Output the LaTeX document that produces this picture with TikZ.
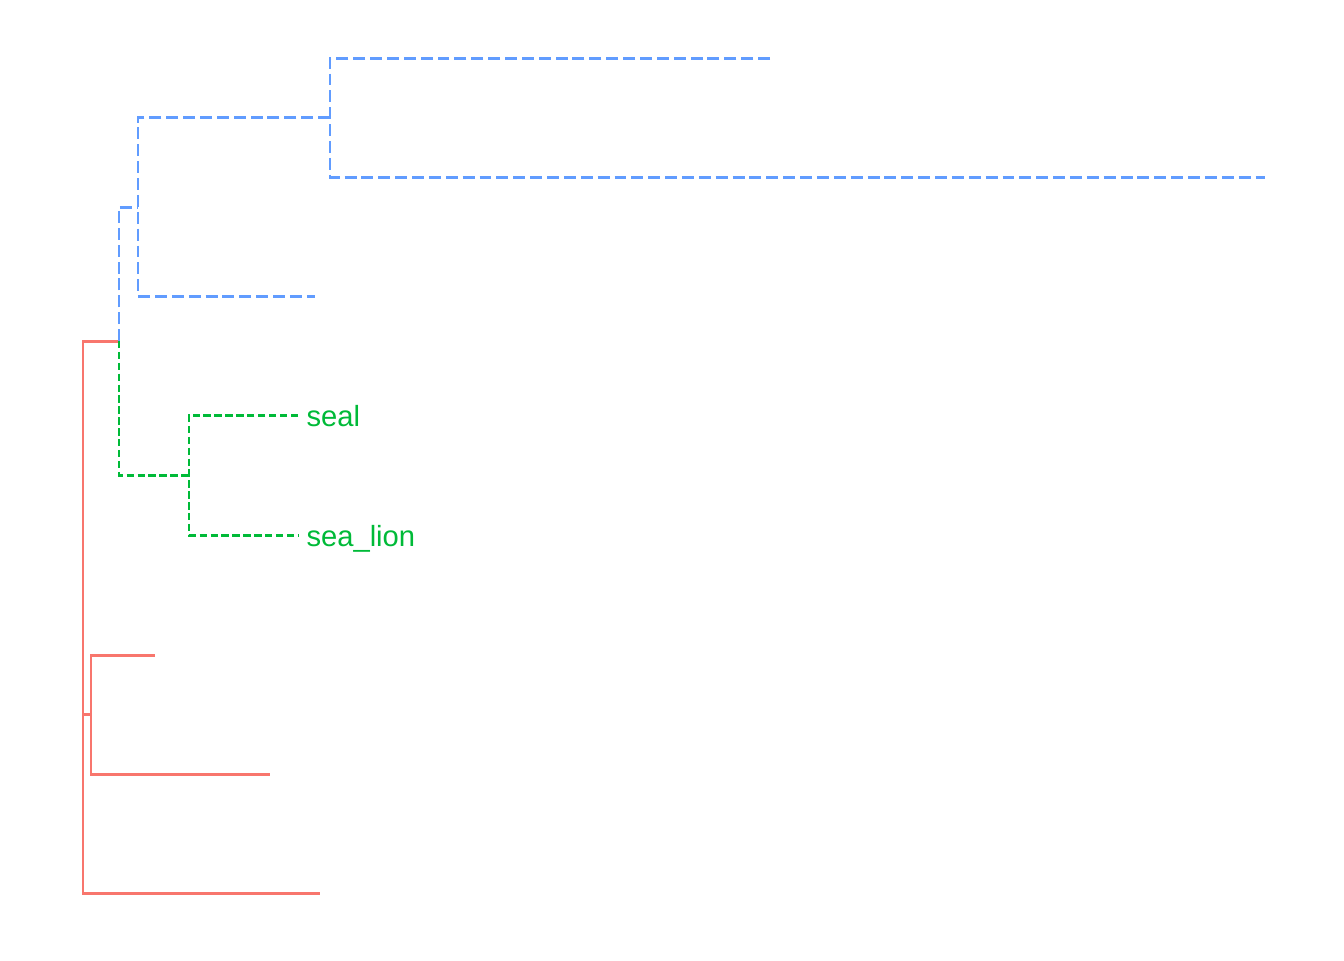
\documentclass[tikz,border=0pt]{standalone}
\usepackage{fontspec}
\setmainfont{Liberation Sans}
\usepackage{xcolor}
\usepackage{tikz}
\usetikzlibrary{positioning}
\definecolor{clusterred}{HTML}{F8766D}
\definecolor{clustergreen}{HTML}{00BA38}
\definecolor{clusterblue}{HTML}{619CFF}

\begin{document}
\begin{tikzpicture}[x=1cm, y=1cm, line width=0.85pt,
    redbranch/.style={clusterred},
    bluebranch/.style={clusterblue, dash pattern=on 3.4pt off 1.4pt},
    greenbranch/.style={clustergreen, dash pattern=on 2.1pt off 1pt},
    leaflabel/.style={anchor=base west, inner sep=2pt, yshift=-3.4pt,
                      text=clustergreen, font=\fontsize{8.3}{10}\selectfont}]
  \useasboundingbox (0,0) rectangle (13.44,-9.6);
  \coordinate (c)      at (1.19,-3.41);
  \coordinate (rootb)  at (0.83,-8.93);
  \coordinate (root)   at (0.83,-7.14);
  \coordinate (s)      at (0.91,-7.14);
  \coordinate (r1)     at (1.55,-6.55);
  \coordinate (r2)     at (2.70,-7.74);
  \coordinate (r3)     at (3.20,-8.93);
  \coordinate (b1)     at (1.38,-2.07);
  \coordinate (b2)     at (3.30,-1.17);
  \coordinate (b3)     at (3.15,-2.96);
  \coordinate (bl1)    at (7.70,-0.58);
  \coordinate (bl2)    at (12.65,-1.77);
  \coordinate (g)      at (1.89,-4.75);
  \coordinate (seal)   at (2.98,-4.15);
  \coordinate (sealion) at (2.98,-5.35);

  \draw[redbranch] (c) -| (rootb) -- (r3);
  \draw[redbranch] (root) -- (s);
  \draw[redbranch] (r1) -| (s) |- (r2);

  \draw[bluebranch] (c) |- (b1);
  \draw[bluebranch] (b2) -| (b1) |- (b3);
  \draw[bluebranch] (bl1) -| (b2) |- (bl2);

  \draw[greenbranch] (c) |- (g);
  \draw[greenbranch] (seal) -| (g) |- (sealion);
  \node[leaflabel] (seallab) at (seal) {seal};
  \node[leaflabel] (sealionlab) at (sealion) {sea\_lion};
\end{tikzpicture}
\end{document}
